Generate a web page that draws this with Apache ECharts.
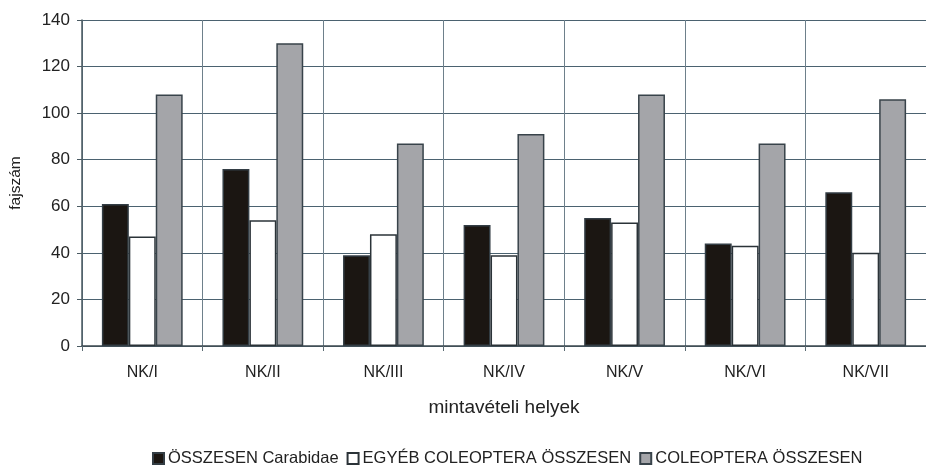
<!DOCTYPE html>
<html>
<head>
<meta charset="utf-8">
<script src="https://cdn.jsdelivr.net/npm/echarts@6/dist/echarts.min.js"></script>
<style>
  html, body { margin: 0; padding: 0; background: #fff; }
  #chart { width: 926px; height: 467px; }
</style>
</head>
<body>
<div id="chart"></div>
<script>
// Sampling sites
const categories = ['NK/I', 'NK/II', 'NK/III', 'NK/IV', 'NK/V', 'NK/VI', 'NK/VII'];

// Species counts per site
const carabidae = [61, 76, 39, 52, 55, 44, 66];
const egyebColeoptera = [47, 54, 48, 39, 53, 43, 40];
const coleopteraOsszesen = [108, 130, 87, 91, 108, 87, 106];

const seriesNames = ['ÖSSZESEN Carabidae', 'EGYÉB COLEOPTERA ÖSSZESEN', 'COLEOPTERA ÖSSZESEN'];
const yTicks = [0, 20, 40, 60, 80, 100, 120, 140];

const sans = '"Liberation Sans", Arial, sans-serif';
const textColor = '#222';

const chart = echarts.init(document.getElementById('chart'));

function barSeries(name, data, fill, border) {
  return {
    name: name,
    type: 'bar',
    data: data,
    barGap: '0%',
    barCategoryGap: '33%',
    itemStyle: { color: fill, borderColor: border, borderWidth: 1.5 },
    emphasis: { disabled: true },
    animation: false
  };
}

chart.setOption({
  animation: false,
  // plot area runs past the right edge of the canvas
  grid: { left: 80, top: 20, width: 856, height: 326, containLabel: false },
  legend: {
    data: seriesNames,
    top: 450,
    left: 152,
    padding: 0,
    itemWidth: 11,
    itemHeight: 11,
    itemGap: 8,
    icon: 'rect',
    textStyle: { fontFamily: sans, fontSize: 16.5, lineHeight: 16, color: textColor, padding: [0, 0, 0, -1] }
  },
  xAxis: {
    type: 'category',
    data: categories,
    name: 'mintavételi helyek',
    nameLocation: 'middle',
    nameGap: 52,
    nameTextStyle: { fontFamily: sans, fontSize: 19, color: textColor, verticalAlign: 'top' },
    axisLine: { lineStyle: { color: '#3e4a50', width: 1.5 } },
    axisTick: { show: true, length: 5, alignWithLabel: false, lineStyle: { color: '#5a6a72' } },
    splitLine: { show: true, lineStyle: { color: '#6e808b', width: 1 } },
    axisLabel: {
      margin: 19,
      fontFamily: sans,
      fontSize: 16,
      color: textColor
    }
  },
  yAxis: {
    type: 'value',
    min: 0,
    max: 140,
    interval: 20,
    name: 'fajszám',
    nameLocation: 'middle',
    nameRotate: 90,
    nameGap: 58,
    nameTextStyle: { fontFamily: sans, fontSize: 15.5, color: textColor },
    axisLine: { show: true, lineStyle: { color: '#4a5a62', width: 1.5 } },
    axisTick: { show: true, length: 5, lineStyle: { color: '#4a5a62' } },
    splitLine: { show: true, lineStyle: { color: '#4b6270', width: 1 } },
    axisLabel: {
      margin: 12,
      fontFamily: sans,
      fontSize: 17,
      color: textColor,
      formatter: function (v) { return yTicks.indexOf(v) >= 0 ? String(v) : ''; }
    }
  },
  series: [
    barSeries(seriesNames[0], carabidae, '#1b1612', '#333d44'),
    barSeries(seriesNames[1], egyebColeoptera, '#ffffff', '#2b3338'),
    barSeries(seriesNames[2], coleopteraOsszesen, '#a4a5a9', '#38434a')
  ]
});
</script>
</body>
</html>
